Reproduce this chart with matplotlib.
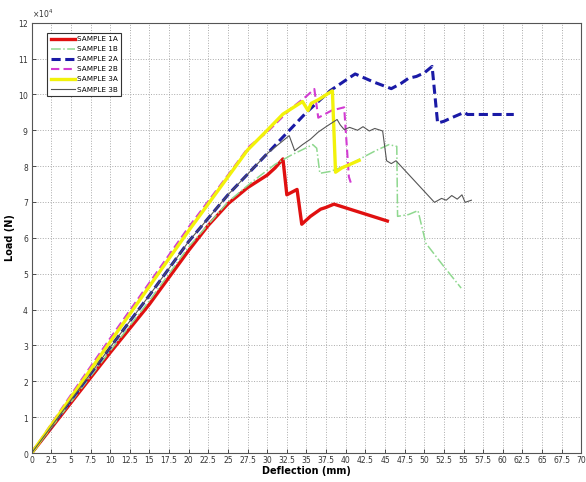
import numpy as np
import matplotlib
matplotlib.use("Agg")
import matplotlib.pyplot as plt
from matplotlib.ticker import MultipleLocator, ScalarFormatter

# load values are in units of 1e4 N
defl_1a = [0, 5, 10, 15, 17.5, 20, 22.5, 25, 27.5, 30, 31, 32,
           32.5, 33.8, 34.4, 35.5, 36.8, 37.5, 38.5, 45.3]
load_1a = [0, 1.4, 2.8, 4.15, 4.9, 5.65, 6.35, 6.95, 7.4, 7.75, 7.95, 8.2,
           7.2, 7.35, 6.38, 6.6, 6.8, 6.85, 6.94, 6.47]

defl_1b = [0, 5, 10, 15, 20, 25, 28, 31, 33, 35.8, 36.3, 36.7, 38, 40.5, 43.8,
           45.5, 46.5, 46.6, 48, 49.2, 50.2, 52.5, 54.7]
load_1b = [0, 1.42, 2.85, 4.25, 5.75, 7.0, 7.55, 8.05, 8.3, 8.6, 8.5, 7.8, 7.85, 8.05, 8.43,
           8.6, 8.55, 6.6, 6.65, 6.76, 5.85, 5.2, 4.6]

defl_2a = [0, 5, 10, 15, 20, 25, 30, 35, 38, 40.5, 41.2, 43.5, 45.8, 47, 48, 49, 50, 51.0,
           51.7, 52.5, 53.5, 55.1, 55.5, 61.4]
load_2a = [0, 1.48, 2.95, 4.4, 5.9, 7.2, 8.35, 9.5, 10.1, 10.47, 10.57, 10.35, 10.16,
           10.3, 10.45, 10.5, 10.6, 10.78, 9.2, 9.25, 9.35, 9.5, 9.44, 9.44]

defl_2b = [0, 5, 10, 15, 20, 25, 27.7, 30, 33, 35, 36, 36.5, 38.2, 39.8, 40.4, 40.7]
load_2b = [0, 1.62, 3.2, 4.75, 6.3, 7.75, 8.55, 8.95, 9.6, 9.95, 10.15, 9.35, 9.55, 9.64, 7.7, 7.5]

defl_3a = [0, 5, 10, 15, 20, 25, 27.5, 30, 32, 34.5, 35.2, 35.6, 36.5, 38.3, 38.7, 39.5, 41.7]
load_3a = [0, 1.55, 3.1, 4.65, 6.2, 7.7, 8.45, 9.0, 9.45, 9.8, 9.55, 9.75, 9.85, 10.1,
           7.83, 7.95, 8.16]

defl_3b = [0, 5, 10, 15, 20, 25, 30, 32.8, 33.5, 34.5, 35.5, 36.5, 37.5, 38.9, 39.3, 39.8,
           40.5, 41.5, 42.2, 43, 43.7, 44.7, 45.2, 45.8, 46.4, 51.3, 52.2, 52.8, 53.5,
           54.2, 54.8, 55.2, 56]
load_3b = [0, 1.48, 2.95, 4.4, 5.9, 7.2, 8.35, 8.85, 8.43, 8.6, 8.75, 8.95, 9.1, 9.3,
           9.15, 9.02, 9.08, 9.0, 9.1, 8.98, 9.05, 8.98, 8.15, 8.07, 8.15, 6.99, 7.1, 7.05,
           7.18, 7.08, 7.2, 6.99, 7.05]

series = [
    ("SAMPLE 1A", defl_1a, load_1a, dict(color="#e01010", lw=2.4, ls="-")),
    ("SAMPLE 1B", defl_1b, load_1b, dict(color="#8fd88f", lw=1.1, ls="-.")),
    ("SAMPLE 2A", defl_2a, load_2a, dict(color="#1a1aa6", lw=2.2, ls=(0, (3, 1.5)))),
    ("SAMPLE 2B", defl_2b, load_2b, dict(color="#d23cd2", lw=1.5, ls=(0, (4, 2)))),
    ("SAMPLE 3A", defl_3a, load_3a, dict(color="#f2f20a", lw=2.4, ls="-")),
    ("SAMPLE 3B", defl_3b, load_3b, dict(color="#555555", lw=0.8, ls="-")),
]

fig = plt.figure(figsize=(5.86, 4.82), dpi=100)
ax = fig.add_axes([0.054, 0.06, 0.938, 0.893])

for name, x, y, style in series:
    ax.plot(x, np.array(y) * 1e4, label=name, **style)

ax.set_xlim(0, 70)
ax.set_ylim(0, 12e4)
ax.xaxis.set_major_locator(MultipleLocator(2.5))
ax.yaxis.set_major_locator(MultipleLocator(1e4))
ax.xaxis.set_major_formatter(plt.FuncFormatter(lambda v, p: f"{v:g}"))

fmt = ScalarFormatter(useMathText=True)
fmt.set_powerlimits((4, 4))
ax.yaxis.set_major_formatter(fmt)
ax.yaxis.get_offset_text().set_fontsize(5.5)
ax.yaxis.get_offset_text().set_color("#444444")

ax.tick_params(direction="in", length=3, width=0.6, labelsize=5.5,
               colors="#333333", pad=2)
ax.grid(True, ls=":", lw=0.7, color="#aaaaaa")
for sp in ax.spines.values():
    sp.set_linewidth(0.8)
    sp.set_color("#555555")

ax.set_xlabel("Deflection (mm)", fontsize=7, fontweight="bold", labelpad=1)
ax.set_ylabel("Load (N)", fontsize=7, fontweight="bold", labelpad=2)

leg = ax.legend(loc="upper left", bbox_to_anchor=(0.022, 0.985), fontsize=5.2,
                fancybox=False, framealpha=1, edgecolor="#333333",
                handlelength=3.3, handletextpad=0.3, labelspacing=0.55,
                borderpad=0.5)
leg.get_frame().set_linewidth(0.8)

fig.savefig("out.png", dpi=100)
